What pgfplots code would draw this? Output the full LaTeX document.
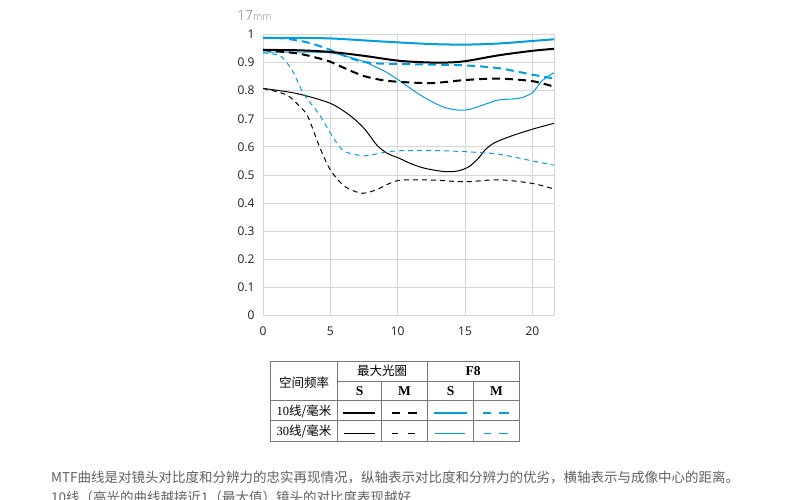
\documentclass[border=0pt]{standalone}
\usepackage{pgfplots}
\pgfplotsset{compat=1.18}
\usepackage{fontspec}
\setmainfont{Open Sans}
\newfontfamily\cjk{Noto Sans CJK SC}
\newfontfamily\serif{Liberation Serif}
\newfontfamily\light{Open Sans Light}
\definecolor{mblue}{RGB}{0,158,224}
\definecolor{gridc}{RGB}{214,214,214}
\definecolor{tabc}{RGB}{120,120,120}
\begin{document}
\begin{tikzpicture}
\useasboundingbox (0pt,0pt) rectangle (789pt,-500pt);
\begin{axis}[
  scale only axis, width=291pt, height=281pt,
  at={(263pt,-315.5pt)}, anchor=origin,
  xmin=0, xmax=21.6, ymin=0, ymax=1,
  xtick={0,5,10,15,20}, ytick={0,0.1,0.2,0.3,0.4,0.5,0.6,0.7,0.8,0.9,1},
  yticklabels={0,0.1,0.2,0.3,0.4,0.5,0.6,0.7,0.8,0.9,1},
  grid=major, major grid style={gridc, line width=0.9pt},
  axis line style={gridc, line width=0.9pt},
  major tick length=0pt,
  tick label style={font=\fontsize{12}{12}\selectfont, text=black!88},
  /pgf/number format/assume math mode=true,
  yticklabel style={xshift=-5pt},
  xticklabel style={yshift=-8pt},
]
% 30 lp/mm, max aperture, S (black thin solid)
\addplot[black, line width=1pt, smooth] coordinates {(0,0.808)(2.5,0.79)(5,0.755)(6.5,0.71)(7.5,0.666)(8.5,0.604)(9.3,0.575)(10,0.562)(11,0.54)(12,0.524)(13.5,0.512)(14.5,0.515)(15.3,0.53)(16,0.56)(16.5,0.59)(17.2,0.615)(18.5,0.64)(20,0.663)(21.6,0.684)};
% 30 lp/mm, max aperture, M (black thin dashed)
\addplot[black, line width=1pt, smooth, dash pattern=on 5pt off 4pt] coordinates {(0,0.808)(1.75,0.785)(2.74,0.743)(3.33,0.708)(4.2,0.6)(5,0.518)(5.95,0.464)(6.7,0.444)(7.4,0.435)(8.4,0.447)(10,0.48)(12.5,0.482)(15,0.476)(17.5,0.483)(20,0.47)(21.6,0.45)};
% 30 lp/mm, F8, S (blue thin solid)
\addplot[mblue, line width=1pt, smooth] coordinates {(0,0.937)(2.5,0.937)(5,0.935)(6.5,0.918)(7.5,0.903)(9,0.87)(10,0.84)(11.5,0.79)(12.5,0.762)(13.5,0.74)(14.5,0.731)(15.3,0.733)(16.5,0.752)(17.5,0.767)(19,0.773)(20,0.793)(20.7,0.835)(21.6,0.864)};
% 30 lp/mm, F8, M (blue thin dashed)
\addplot[mblue, line width=1pt, smooth, dash pattern=on 5pt off 4pt] coordinates {(0,0.935)(0.8,0.93)(1.4,0.92)(2.2,0.87)(3,0.79)(4.2,0.714)(5,0.649)(5.5,0.613)(6.1,0.583)(7.5,0.568)(8.7,0.578)(10,0.586)(12.5,0.587)(15,0.583)(17.5,0.574)(20,0.55)(21.6,0.535)};
% 10 lp/mm, max aperture, M (black thick dashed)
\addplot[black, line width=2pt, smooth, dash pattern=on 8pt off 5pt] coordinates {(0,0.945)(2.5,0.933)(4,0.917)(5,0.903)(6.3,0.875)(7.5,0.852)(8.8,0.838)(10,0.832)(12.5,0.827)(15,0.838)(17.5,0.843)(20,0.834)(21.6,0.814)};
% 10 lp/mm, F8, M (blue thick dashed)
\addplot[mblue, line width=2pt, smooth, dash pattern=on 8pt off 5pt] coordinates {(0,0.988)(1.5,0.986)(3,0.975)(4,0.962)(5,0.945)(6,0.925)(7.2,0.905)(8.5,0.897)(10,0.895)(12.5,0.893)(15,0.89)(17.5,0.88)(20,0.857)(21.6,0.843)};
% 10 lp/mm, max aperture, S (black thick solid)
\addplot[black, line width=2pt, smooth] coordinates {(0,0.945)(2.5,0.944)(5,0.938)(7.5,0.924)(10,0.907)(12,0.901)(13.5,0.9)(15,0.905)(17.5,0.926)(20,0.942)(21.6,0.949)};
% 10 lp/mm, F8, S (blue thick solid)
\addplot[mblue, line width=2pt, smooth] coordinates {(0,0.988)(2.5,0.988)(5,0.986)(7.5,0.979)(10,0.972)(12.5,0.966)(15,0.964)(17.5,0.968)(20,0.977)(21.6,0.983)};
\end{axis}
\begin{scope}[x=1pt,y=-1pt]
% title
\node[anchor=west, inner sep=0pt, text=black!50] at (237,16) {\light\fontsize{14}{14}\selectfont 17\fontsize{10.5}{10.5}\selectfont mm};
% legend table
\draw[tabc, line width=0.7pt] (270,361.7) rectangle (519.3,441);
\draw[tabc, line width=0.7pt] (337.3,361.7) -- (337.3,441);
\draw[tabc, line width=0.7pt] (427.3,361.7) -- (427.3,441);
\draw[tabc, line width=0.7pt] (381.7,381) -- (381.7,441);
\draw[tabc, line width=0.7pt] (473.3,381) -- (473.3,441);
\draw[tabc, line width=0.7pt] (337.3,381) -- (519.3,381);
\draw[tabc, line width=0.7pt] (270,400.7) -- (519.3,400.7);
\draw[tabc, line width=0.7pt] (270,420.7) -- (519.3,420.7);
\node[font=\cjk\fontsize{12.5}{12.5}\selectfont] at (304,383) {空间频率};
\node[font=\cjk\fontsize{12.5}{12.5}\selectfont] at (382,371) {最大光圈};
\node[font=\serif\bfseries\fontsize{13.5}{13.5}\selectfont] at (473,371) {F8};
\node[font=\serif\bfseries\fontsize{13.5}{13.5}\selectfont] at (359.5,391.5) {S};
\node[font=\serif\bfseries\fontsize{13.5}{13.5}\selectfont] at (404.5,391.5) {M};
\node[font=\serif\bfseries\fontsize{13.5}{13.5}\selectfont] at (450.5,391.5) {S};
\node[font=\serif\bfseries\fontsize{13.5}{13.5}\selectfont] at (496.5,391.5) {M};
\node[font=\cjk\fontsize{12.5}{12.5}\selectfont] at (304,411.5) {{\serif 10}线/毫米};
\node[font=\cjk\fontsize{12.5}{12.5}\selectfont] at (304,431.5) {{\serif 30}线/毫米};
% legend samples
\draw[black, line width=2pt] (343,413) -- (375,413);
\draw[black, line width=2pt] (392,413) -- (400,413) (408,413) -- (417,413);
\draw[mblue, line width=2pt] (434,413) -- (467,413);
\draw[mblue, line width=2pt] (483,413) -- (491,413) (499,413) -- (509,413);
\draw[black, line width=0.9pt] (344,433.5) -- (375,433.5);
\draw[black, line width=0.9pt] (392,433.5) -- (398,433.5) (408,433.5) -- (415,433.5);
\draw[mblue, line width=0.9pt] (435,433.5) -- (465,433.5);
\draw[mblue, line width=0.9pt] (484,433.5) -- (491,433.5) (499,433.5) -- (508,433.5);
% caption
\node[anchor=west, inner sep=0pt, text=black!62, font=\cjk\fontsize{13.5}{13.5}\selectfont] at (51,477) {MTF曲线是对镜头对比度和分辨力的忠实再现情况，纵轴表示对比度和分辨力的优劣，横轴表示与成像中心的距离。};
\node[anchor=west, inner sep=0pt, text=black!62, font=\cjk\fontsize{13.5}{13.5}\selectfont] at (51,497) {10线（高光的曲线越接近1（最大值）镜头的对比度表现越好};
\end{scope}
\end{tikzpicture}
\end{document}
